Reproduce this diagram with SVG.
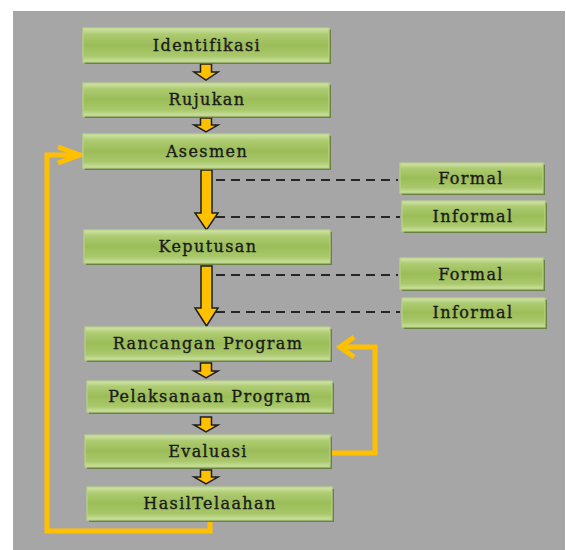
<svg xmlns="http://www.w3.org/2000/svg" width="566" height="550" viewBox="0 0 566 550">
<defs>
<linearGradient id="g" x1="0" y1="0" x2="0" y2="1">
<stop offset="0" stop-color="#d3e6ad"/>
<stop offset="0.18" stop-color="#aecb72"/>
<stop offset="0.5" stop-color="#9bbd58"/>
<stop offset="0.82" stop-color="#a9c86b"/>
<stop offset="1" stop-color="#cde2a3"/>
</linearGradient>
</defs>
<style>
.sh{fill:#5e7a30;opacity:0.85}
.bx{fill:url(#g);stroke:#b9d383;stroke-width:1.2}
.t{font-family:"DejaVu Serif","Liberation Serif",serif;font-size:16px;letter-spacing:1.4px;fill:#1a1a1a;stroke:#1a1a1a;stroke-width:0.35;text-anchor:middle}
.dash{stroke:#262626;stroke-width:2;stroke-dasharray:9,6;fill:none}
.ar{fill:#ffc000;stroke:#1e1e1e;stroke-width:1.5;stroke-linejoin:miter}
.fb{fill:none;stroke:#ffc000;stroke-width:5}
</style>
<rect x="0" y="0" width="566" height="550" fill="#ffffff"/>
<rect x="13" y="11" width="552" height="539" fill="#a6a6a6"/>

<g id="connectors">
<line class="dash" x1="216" y1="180" x2="398" y2="180"/>
<line class="dash" x1="216" y1="217" x2="400" y2="217"/>
<line class="dash" x1="216" y1="275" x2="398" y2="275"/>
<line class="dash" x1="216" y1="312" x2="400" y2="312"/>
<path class="ar" d="M200.5,64 H211.5 V72 H218 L206,80 L194,72 H200.5 Z"/>
<path class="ar" d="M200.5,118 H211.5 V125 H218 L206,132 L194,125 H200.5 Z"/>
<path class="ar" d="M201,170 H212 V213 H218 L206.5,230 L195,213 H201 Z"/>
<path class="ar" d="M201,266 H212 V308 H218 L206.5,326 L195,308 H201 Z"/>
<path class="ar" d="M200.5,363 H211.5 V371 H218 L206,378 L194,371 H200.5 Z"/>
<path class="ar" d="M200.5,417 H211.5 V425 H218 L206,432 L194,425 H200.5 Z"/>
<path class="ar" d="M200.5,470 H211.5 V477 H218 L206,484 L194,477 H200.5 Z"/>
<path class="fb" d="M210,521 V531 H47 V155 H80"/>
<path class="fb" d="M58,147 L80,155 L58,163"/>
<path class="fb" d="M332,453 H375 V347 H340"/>
<path class="fb" d="M354,337 L340,347 L354,357"/>
</g>

<g id="n-identifikasi">
<rect class="sh" x="85" y="30" width="246" height="34"/>
<rect class="bx" x="83" y="28" width="246" height="34"/>
<text class="t" x="207" y="51">Identifikasi</text>
</g>
<g id="n-rujukan">
<rect class="sh" x="85" y="85" width="246" height="33"/>
<rect class="bx" x="83" y="83" width="246" height="33"/>
<text class="t" x="207" y="105">Rujukan</text>
</g>
<g id="n-asesmen">
<rect class="sh" x="85" y="136" width="246" height="34"/>
<rect class="bx" x="83" y="134" width="246" height="34"/>
<text class="t" x="207" y="157">Asesmen</text>
</g>
<g id="n-formal1">
<rect class="sh" x="402" y="165" width="143" height="30"/>
<rect class="bx" x="400" y="163" width="143" height="30"/>
<text class="t" x="471" y="184">Formal</text>
</g>
<g id="n-informal1">
<rect class="sh" x="404" y="203" width="143" height="30"/>
<rect class="bx" x="402" y="201" width="143" height="30"/>
<text class="t" x="473" y="222">Informal</text>
</g>
<g id="n-keputusan">
<rect class="sh" x="86" y="232" width="246" height="33"/>
<rect class="bx" x="84" y="230" width="246" height="33"/>
<text class="t" x="208" y="252">Keputusan</text>
</g>
<g id="n-formal2">
<rect class="sh" x="402" y="260" width="143" height="31"/>
<rect class="bx" x="400" y="258" width="143" height="31"/>
<text class="t" x="471" y="280">Formal</text>
</g>
<g id="n-informal2">
<rect class="sh" x="404" y="300" width="143" height="29"/>
<rect class="bx" x="402" y="298" width="143" height="29"/>
<text class="t" x="473" y="318">Informal</text>
</g>
<g id="n-rancangan">
<rect class="sh" x="87" y="329" width="245" height="33"/>
<rect class="bx" x="85" y="327" width="245" height="33"/>
<text class="t" x="208" y="349">Rancangan Program</text>
</g>
<g id="n-pelaksanaan">
<rect class="sh" x="89" y="383" width="245" height="31"/>
<rect class="bx" x="87" y="381" width="245" height="31"/>
<text class="t" x="210" y="402">Pelaksanaan Program</text>
</g>
<g id="n-evaluasi">
<rect class="sh" x="87" y="437" width="245" height="32"/>
<rect class="bx" x="85" y="435" width="245" height="32"/>
<text class="t" x="208" y="457">Evaluasi</text>
</g>
<g id="n-hasil">
<rect class="sh" x="89" y="489" width="245" height="33"/>
<rect class="bx" x="87" y="487" width="245" height="33"/>
<text class="t" x="210" y="509">HasilTelaahan</text>
</g>
</svg>
